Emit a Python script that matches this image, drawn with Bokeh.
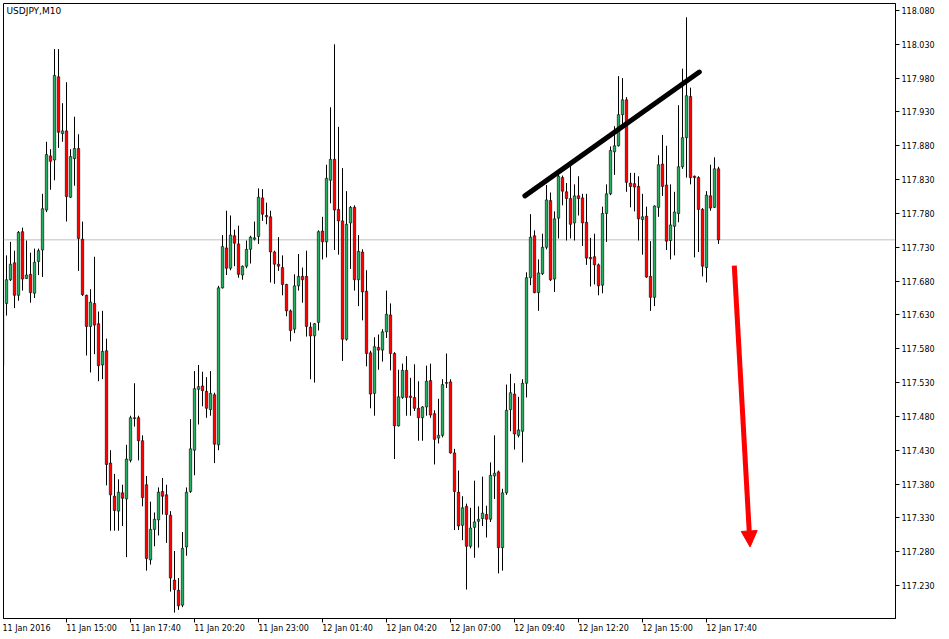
import numpy as np
from bokeh.plotting import figure
from bokeh.models import (LinearAxis, FixedTicker, PrintfTickFormatter, Span, Label,
                          Arrow, NormalHead, Range1d, ColumnDataSource)
from bokeh.embed import file_html
from bokeh.resources import INLINE

symbol_title = "USDJPY,M10"

opens = [117.555, 117.647, 117.682, 117.707, 117.659, 117.753, 117.684, 117.690, 117.662, 117.709,
         117.726, 117.785, 117.865, 117.859, 117.982, 117.898, 117.902, 117.804, 117.861, 117.876,
         117.742, 117.659, 117.613, 117.647, 117.617, 117.556, 117.577, 117.411, 117.362, 117.340,
         117.367, 117.358, 117.415, 117.478, 117.478, 117.444, 117.379, 117.268, 117.313, 117.327,
         117.369, 117.364, 117.334, 117.238, 117.223, 117.201, 117.287, 117.369, 117.430, 117.520,
         117.525, 117.517, 117.490, 117.512, 117.438, 117.670, 117.729, 117.699, 117.747, 117.735,
         117.689, 117.702, 117.727, 117.742, 117.746, 117.803, 117.777, 117.775, 117.723, 117.705,
         117.700, 117.675, 117.636, 117.609, 117.673, 117.687, 117.687, 117.612, 117.599, 117.619,
         117.754, 117.738, 117.829, 117.860, 117.786, 117.769, 117.594, 117.766, 117.789, 117.682,
         117.723, 117.665, 117.574, 117.514, 117.582, 117.578, 117.605, 117.630, 117.573, 117.466,
         117.508, 117.548, 117.510, 117.508, 117.492, 117.478, 117.494, 117.533, 117.484, 117.448,
         117.452, 117.529, 117.531, 117.426, 117.368, 117.319, 117.347, 117.288, 117.316, 117.325,
         117.329, 117.335, 117.328, 117.392, 117.398, 117.286, 117.367, 117.490, 117.513, 117.452,
         117.458, 117.529, 117.685, 117.747, 117.663, 117.691, 117.730, 117.799, 117.683, 117.773,
         117.833, 117.812, 117.802, 117.766, 117.806, 117.803, 117.767, 117.715, 117.716, 117.704,
         117.674, 117.780, 117.809, 117.871, 117.880, 117.926, 117.948, 117.825, 117.824, 117.820,
         117.771, 117.776, 117.687, 117.656, 117.789, 117.853, 117.822, 117.740, 117.761, 117.780,
         117.849, 117.892, 117.953, 117.835, 117.833, 117.786, 117.700, 117.806, 117.789, 117.846]

highs = [117.650, 117.718, 117.738, 117.725, 117.754, 117.759, 117.740, 117.722, 117.728, 117.728,
         117.809, 117.886, 117.875, 118.023, 118.023, 117.943, 117.974, 117.875, 117.923, 117.897,
         117.768, 117.660, 117.668, 117.716, 117.635, 117.636, 117.595, 117.430, 117.395, 117.387,
         117.379, 117.438, 117.481, 117.529, 117.481, 117.452, 117.392, 117.354, 117.338, 117.375,
         117.389, 117.379, 117.340, 117.281, 117.241, 117.309, 117.375, 117.476, 117.547, 117.556,
         117.546, 117.538, 117.547, 117.515, 117.673, 117.748, 117.784, 117.777, 117.756, 117.762,
         117.703, 117.740, 117.747, 117.768, 117.817, 117.816, 117.796, 117.784, 117.725, 117.745,
         117.718, 117.676, 117.638, 117.690, 117.720, 117.700, 117.725, 117.619, 117.618, 117.755,
         117.775, 117.852, 117.937, 118.030, 117.908, 117.847, 117.813, 117.791, 117.792, 117.748,
         117.727, 117.696, 117.577, 117.597, 117.601, 117.609, 117.666, 117.647, 117.575, 117.549,
         117.558, 117.569, 117.537, 117.557, 117.532, 117.495, 117.555, 117.558, 117.489, 117.506,
         117.535, 117.573, 117.535, 117.432, 117.400, 117.362, 117.351, 117.345, 117.385, 117.347,
         117.391, 117.348, 117.412, 117.452, 117.400, 117.373, 117.527, 117.543, 117.529, 117.509,
         117.535, 117.693, 117.779, 117.755, 117.712, 117.750, 117.822, 117.811, 117.783, 117.840,
         117.836, 117.825, 117.851, 117.823, 117.835, 117.809, 117.809, 117.744, 117.750, 117.706,
         117.790, 117.823, 117.879, 117.909, 117.983, 117.980, 117.952, 117.840, 117.840, 117.835,
         117.809, 117.790, 117.739, 117.792, 117.866, 117.896, 117.880, 117.823, 117.812, 117.940,
         117.994, 118.070, 117.966, 117.836, 117.835, 117.788, 117.813, 117.852, 117.863, 117.849]

lows = [117.548, 117.629, 117.680, 117.640, 117.651, 117.666, 117.683, 117.648, 117.655, 117.689,
        117.686, 117.782, 117.815, 117.829, 117.877, 117.886, 117.768, 117.803, 117.821, 117.695,
        117.658, 117.570, 117.545, 117.572, 117.532, 117.535, 117.378, 117.311, 117.311, 117.311,
        117.318, 117.272, 117.412, 117.465, 117.415, 117.347, 117.252, 117.261, 117.288, 117.304,
        117.335, 117.293, 117.221, 117.190, 117.194, 117.198, 117.274, 117.367, 117.393, 117.468,
        117.495, 117.478, 117.481, 117.411, 117.430, 117.669, 117.689, 117.696, 117.702, 117.685,
        117.682, 117.699, 117.706, 117.740, 117.735, 117.769, 117.764, 117.678, 117.676, 117.695,
        117.659, 117.628, 117.591, 117.603, 117.666, 117.648, 117.598, 117.535, 117.530, 117.607,
        117.712, 117.715, 117.795, 117.726, 117.719, 117.562, 117.592, 117.698, 117.666, 117.643,
        117.622, 117.554, 117.492, 117.481, 117.549, 117.561, 117.596, 117.548, 117.417, 117.465,
        117.506, 117.481, 117.481, 117.488, 117.444, 117.444, 117.481, 117.478, 117.409, 117.440,
        117.449, 117.522, 117.425, 117.312, 117.312, 117.297, 117.224, 117.285, 117.271, 117.286,
        117.318, 117.301, 117.324, 117.358, 117.248, 117.252, 117.364, 117.458, 117.431, 117.449,
        117.412, 117.508, 117.674, 117.662, 117.636, 117.689, 117.727, 117.680, 117.664, 117.743,
        117.792, 117.740, 117.743, 117.740, 117.777, 117.732, 117.704, 117.672, 117.675, 117.659,
        117.662, 117.738, 117.807, 117.837, 117.879, 117.909, 117.812, 117.789, 117.783, 117.740,
        117.719, 117.685, 117.636, 117.643, 117.775, 117.806, 117.726, 117.712, 117.718, 117.767,
        117.846, 117.833, 117.823, 117.715, 117.723, 117.687, 117.678, 117.784, 117.788, 117.735]

closes = [117.646, 117.682, 117.705, 117.659, 117.752, 117.683, 117.689, 117.663, 117.708, 117.725,
          117.787, 117.867, 117.857, 117.984, 117.900, 117.902, 117.805, 117.864, 117.876, 117.743,
          117.660, 117.613, 117.649, 117.615, 117.555, 117.576, 117.409, 117.364, 117.341, 117.368,
          117.359, 117.417, 117.478, 117.477, 117.444, 117.360, 117.270, 117.313, 117.328, 117.368,
          117.362, 117.335, 117.241, 117.224, 117.200, 117.285, 117.368, 117.432, 117.521, 117.524,
          117.518, 117.492, 117.514, 117.439, 117.670, 117.731, 117.699, 117.748, 117.736, 117.690,
          117.702, 117.727, 117.745, 117.744, 117.804, 117.779, 117.775, 117.723, 117.705, 117.702,
          117.675, 117.636, 117.607, 117.673, 117.687, 117.682, 117.613, 117.599, 117.617, 117.753,
          117.738, 117.832, 117.860, 117.785, 117.769, 117.594, 117.764, 117.789, 117.682, 117.724,
          117.664, 117.573, 117.513, 117.583, 117.578, 117.605, 117.631, 117.573, 117.466, 117.509,
          117.548, 117.508, 117.508, 117.492, 117.478, 117.494, 117.532, 117.482, 117.446, 117.452,
          117.527, 117.530, 117.426, 117.369, 117.318, 117.345, 117.288, 117.315, 117.324, 117.328,
          117.337, 117.328, 117.393, 117.396, 117.286, 117.367, 117.489, 117.515, 117.454, 117.460,
          117.529, 117.685, 117.745, 117.663, 117.692, 117.730, 117.800, 117.682, 117.772, 117.835,
          117.813, 117.802, 117.764, 117.806, 117.802, 117.766, 117.714, 117.713, 117.704, 117.673,
          117.780, 117.809, 117.873, 117.880, 117.926, 117.948, 117.826, 117.820, 117.819, 117.772,
          117.775, 117.686, 117.656, 117.791, 117.852, 117.820, 117.739, 117.763, 117.782, 117.849,
          117.892, 117.954, 117.833, 117.833, 117.786, 117.702, 117.807, 117.788, 117.846, 117.741]

time_tick_bars = [0, 16, 32, 48, 64, 80, 96, 112, 128, 144, 160, 176]
time_tick_labels = ["11 Jan 2016", "11 Jan 15:00", "11 Jan 17:40", "11 Jan 20:20",
                    "11 Jan 23:00", "12 Jan 01:40", "12 Jan 04:20", "12 Jan 07:00",
                    "12 Jan 09:40", "12 Jan 12:20", "12 Jan 15:00", "12 Jan 17:40"]
price_ticks = [117.230, 117.280, 117.330, 117.380, 117.430, 117.480, 117.530, 117.580, 117.630,
               117.680, 117.730, 117.780, 117.830, 117.880, 117.930, 117.980, 118.030, 118.080]
last_price = 117.741

trend_bars = [130.6, 174.2]
trend_prices = [117.806, 117.989]
arrow_bars = [182.95, 186.9]
arrow_prices = [117.703, 117.287]

GREEN = "#27ae60"
RED = "#ff0000"
FONT = "DejaVu Sans"

n = len(opens)
xs = np.arange(n)
o = np.array(opens); c = np.array(closes)
src = ColumnDataSource(dict(
    x=xs, high=highs, low=lows,
    top=np.maximum(o, c), bottom=np.minimum(o, c),
    color=[GREEN if cc >= oo else RED for oo, cc in zip(opens, closes)],
))

# layout (pixels): frame from (3,3) to (895,618); 4 px per bar; 676.5 px per price unit
W, H = 945, 636
LEFT, TOP = 3, 3
FRAME_W, FRAME_H = 892, 615
PX_BAR = 4.0
PX_PRICE = 676.5
x0 = (LEFT - 2.0) / PX_BAR
y1 = 118.080 + (10 - TOP) / PX_PRICE

p = figure(width=W, height=H, output_backend="svg", toolbar_location=None,
           x_range=Range1d(x0, x0 + FRAME_W / PX_BAR),
           y_range=Range1d(y1 - FRAME_H / PX_PRICE, y1),
           x_axis_location=None, y_axis_location=None,
           min_border_left=LEFT, min_border_top=TOP,
           min_border_right=W - LEFT - FRAME_W, min_border_bottom=H - TOP - FRAME_H,
           background_fill_color="white", border_fill_color="white",
           outline_line_color="black", outline_line_width=1)
for g in p.grid:
    g.visible = False

# price axis
yax = LinearAxis(ticker=FixedTicker(ticks=price_ticks, minor_ticks=[]),
                 formatter=PrintfTickFormatter(format="%.3f"),
                 major_tick_out=4, major_tick_in=0, minor_tick_out=0, minor_tick_in=0,
                 major_label_standoff=2, axis_line_color="black",
                 major_tick_line_color="black",
                 major_label_text_font=FONT, major_label_text_font_size="8px",
                 major_label_text_color="black")
p.add_layout(yax, "right")

# time axis: tick marks
xax_ticks = LinearAxis(ticker=FixedTicker(ticks=time_tick_bars, minor_ticks=[]),
                       major_tick_out=4, major_tick_in=0, minor_tick_out=0, minor_tick_in=0,
                       major_label_standoff=0, major_label_text_font_size="1px",
                       major_label_overrides={b: "" for b in time_tick_bars},
                       axis_line_color="black", major_tick_line_color="black")
p.add_layout(xax_ticks, "below")

# time axis: labels starting at their tick (left aligned like the terminal)
label_pos = [6.0] + [b + 6.25 for b in time_tick_bars[1:]]
xax_labels = LinearAxis(ticker=FixedTicker(ticks=label_pos, minor_ticks=[]),
                        major_tick_out=0, major_tick_in=0, minor_tick_out=0, minor_tick_in=0,
                        axis_line_color=None, major_label_standoff=1,
                        major_label_overrides={pos: lab for pos, lab in zip(label_pos, time_tick_labels)},
                        major_label_text_font=FONT, major_label_text_font_size="8px",
                        major_label_text_color="black")
p.add_layout(xax_labels, "below")

p.add_layout(Span(location=last_price, dimension="width", line_color="#c0c0c0",
                  line_width=1, level="underlay"))

p.segment(x0="x", y0="low", x1="x", y1="high", source=src, line_color="black", line_width=1)
p.vbar(x="x", width=0.6, top="top", bottom="bottom", source=src,
       fill_color="color", line_color="black", line_width=0.6)

p.line(trend_bars, trend_prices, line_color="black", line_width=5, line_cap="round")

p.add_layout(Arrow(end=NormalHead(size=16, fill_color=RED, line_color=RED),
                   x_start=arrow_bars[0], y_start=arrow_prices[0],
                   x_end=arrow_bars[1], y_end=arrow_prices[1],
                   line_color=RED, line_width=5))

p.add_layout(Label(x=3, y=FRAME_H - 2, x_units="screen", y_units="screen",
                   text=symbol_title, text_font=FONT, text_font_size="9px",
                   text_color="black", text_align="left", text_baseline="top"))

p.add_layout(Label(x=FRAME_W + 1, y=last_price, x_units="screen", y_units="data",
                   text=f"{last_price:.3f}", text_font=FONT, text_font_size="8px",
                   text_color="white", text_align="left", text_baseline="middle",
                   background_fill_color="#c0c0c0", padding=(1, 3)))

open("out.html", "w").write(file_html(p, INLINE))
